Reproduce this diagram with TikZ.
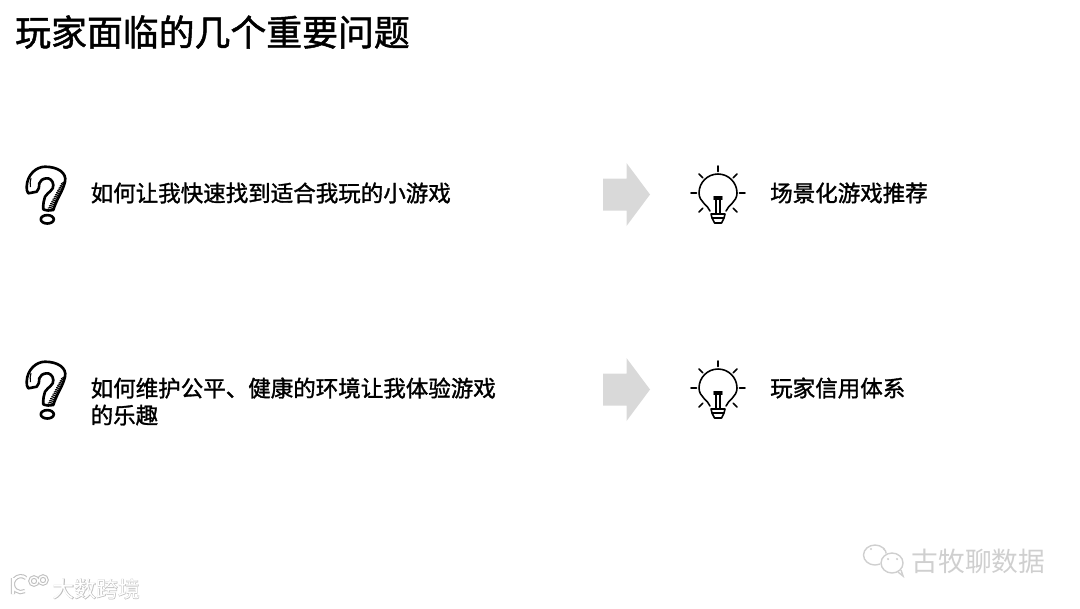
\documentclass[tikz,border=0pt]{standalone}
\usepackage{fontspec}
\newfontfamily\cjk[FakeBold=1.4]{Noto Sans CJK SC}
\newfontfamily\cjkplain{Noto Sans CJK SC}
\newfontfamily\cjkhalo[FakeBold=3]{Noto Sans CJK SC}

\tikzset{
    titleText/.style={anchor=west, inner sep=0pt, font=\cjk\fontsize{10.2pt}{12pt}\selectfont},
    bodyText/.style={anchor=west, inner sep=0pt, align=left, font=\cjk\fontsize{6.4pt}{7.68pt}\selectfont},
    iconLine/.style={line width=0.45pt, line cap=round, line join=round},
    markLine/.style={line width=0.75pt, line cap=round, line join=round},
    pics/questionMark/.style={code={
        % Outline
        \draw[markLine] (-19.3,-8.3) .. controls (-19,-20) and (-10,-28.3) .. (-1,-28.3)
            .. controls (12,-28.3) and (21,-22) .. (19,-13.3)
            .. controls (17,-4) and (11,3) .. (7.3,15)
            .. controls (4,16) and (0,15.5) .. (-2.7,14.3)
            .. controls (-3,8) and (-2,5) .. (-1,1.7)
            .. controls (2,-3) and (8,-5) .. (7.3,-10)
            .. controls (7,-15) and (3,-17) .. (0.7,-16.7)
            .. controls (-3,-16.5) and (-6,-14.5) .. (-6.7,-11.7)
            .. controls (-7,-8) and (-7,-5) .. (-9.3,-3.3)
            .. controls (-12,-3) and (-15,-2) .. (-17.7,-1.7)
            .. controls (-19,-3) and (-19.5,-6) .. (-19.3,-8.3) -- cycle;
        % Shading
        \foreach \t in {0,...,12}
            \draw[line width=0.3pt] (18-0.9*\t,-13+2.2*\t) -- ++(-3-0.3*\t,2);
        \draw[line width=0.3pt] (-15,-17) .. controls (-16,-14) and (-16,-11) .. (-15.5,-8);
        % Dot
        \draw[markLine] (1.3,24.3) ellipse [x radius=6.5, y radius=4.2];
    }},
    pics/lightBulb/.style={code={
        % Glass
        \draw[iconLine] (-8,18) .. controls (-10,12) and (-19,9) .. (-19,0)
            arc [start angle=180, end angle=360, radius=19]
            .. controls (19,9) and (10,12) .. (8,18);
        % Filament
        \draw[iconLine] (-4,4) -- (4,4) (-4,6) -- (4,6) (-2.2,6) -- (-2.2,21) (2.2,6) -- (2.2,21);
        % Base
        \draw[iconLine] (-7,21) -- (7,21) -- (6,25) -- (-6,25) -- cycle;
        \draw[iconLine] (-6,25) -- (-3.5,30) -- (3.5,30) -- (6,25);
        % Rays
        \foreach \a in {-135,-90,-45,0,45,135,180}
            \draw[iconLine] (\a:21.5) -- (\a:27);
    }},
    pics/blockArrow/.style={code={
        \fill[black!15] (-23.5,-16) -- (0,-16) -- (0,-31.5) -- (23.5,0)
            -- (0,31.5) -- (0,16) -- (-23.5,16) -- cycle;
    }}
}

\begin{document}
\begin{tikzpicture}[x=0.01cm, y=-0.01cm]
    \definecolor{markColour}{HTML}{CFCFCF}
    \useasboundingbox (0,0) rectangle (1080,608);

    % Title
    \node[titleText] (title) at (14.5,32) {玩家面临的几个重要问题};

    % First row
    \pic at (46,195) {questionMark};
    \node[bodyText] (askOne) at (90,193) {如何让我快速找到适合我玩的小游戏};
    \pic at (626.5,194.5) {blockArrow};
    \pic at (718,193) {lightBulb};
    \node[bodyText] (answerOne) at (769.5,193) {场景化游戏推荐};

    % Second row
    \pic at (46,390) {questionMark};
    \node[bodyText] (askTwo) at (90,401.5) {如何维护公平、健康的环境让我体验游戏\\的乐趣};
    \pic at (626.5,389.5) {blockArrow};
    \pic at (718,388) {lightBulb};
    \node[bodyText] (answerTwo) at (769.5,388) {玩家信用体系};

    % Mark, lower right
    \draw[markColour, line width=0.4pt] (875,555) ellipse [x radius=11.5, y radius=10];
    \fill[white] (892,563) ellipse [x radius=12, y radius=11];
    \draw[markColour, line width=0.4pt] (892,563) ellipse [x radius=11, y radius=10];
    \draw[markColour, line width=0.4pt] (898,572) -- (903,576) -- (901,570);
    \foreach \x/\y in {871/549,884/549,888/559,897/559}
        \fill[markColour] (\x,\y) circle [radius=1.2];
    \node[anchor=west, inner sep=0pt, text=markColour, font=\cjkplain\fontsize{7.6pt}{9pt}\selectfont] (markOne) at (911,561) {古牧聊数据};

    % Mark, lower left
    \draw[black!25, line width=1.2pt] (13,578) -- (13,594) (26,578) arc [start angle=-50, end angle=-300, radius=8];
    \draw[black!25, line width=1pt] (34,581) circle [radius=4] (43,580) circle [radius=4];
    \draw[white, line width=0.6pt] (13,578) -- (13,594) (26,578) arc [start angle=-50, end angle=-300, radius=8];
    \draw[white, line width=0.4pt] (34,581) circle [radius=4] (43,580) circle [radius=4];
    \node[anchor=west, inner sep=0pt, text=black!25, font=\cjkhalo\fontsize{6.2pt}{8pt}\selectfont] (markHalo) at (52,589) {大数跨境};
    \node[anchor=west, inner sep=0pt, text=white, font=\cjkplain\fontsize{6.2pt}{8pt}\selectfont] (markTwo) at (52,589) {大数跨境};
\end{tikzpicture}
\end{document}
